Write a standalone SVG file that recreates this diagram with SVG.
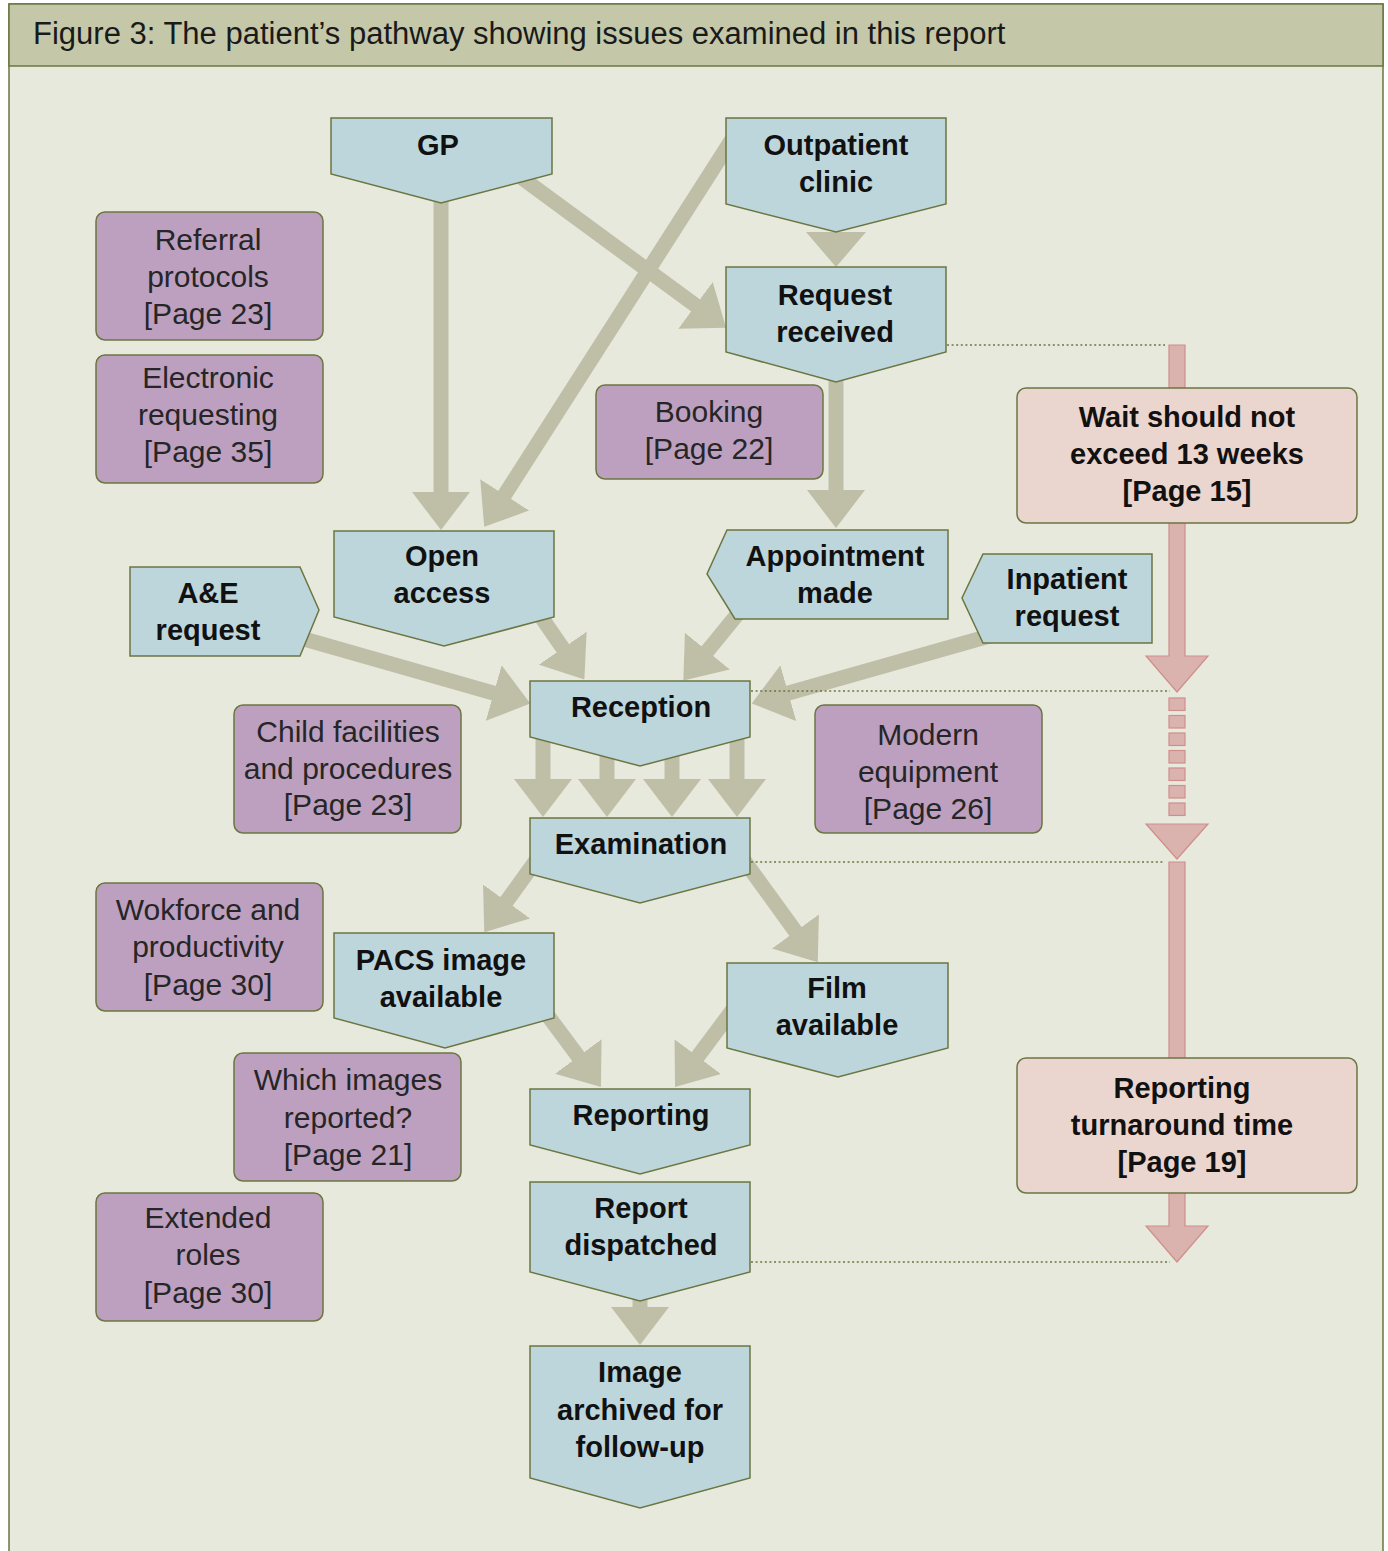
<svg xmlns="http://www.w3.org/2000/svg" width="1388" height="1551" viewBox="0 0 1388 1551">
<defs>
<style>
.node{fill:#bdd6dc;stroke:#6b7640;stroke-width:1.5}
.note{fill:#bda0c0;stroke:#6b7640;stroke-width:1.5}
.pinkbox{fill:#ebd5cf;stroke:#6b7640;stroke-width:1.5}
.conn{stroke:#bfbfa8;stroke-width:15;fill:none;marker-end:url(#ah)}
.head{fill:#bfbfa8}
.pink{fill:#dbb3ae;stroke:#d08e8b;stroke-width:1.2}
.dot{stroke:#6b7640;stroke-width:1.3;stroke-dasharray:2 2.6;fill:none}
.bt{font-family:"Liberation Sans",Arial,sans-serif;font-weight:bold;font-size:29px;fill:#111;text-anchor:middle}
.nt{font-family:"Liberation Sans",Arial,sans-serif;font-size:30px;fill:#262626;text-anchor:middle}
</style>
<marker id="ah" markerUnits="userSpaceOnUse" viewBox="0 0 38 58" markerWidth="38" markerHeight="58" refX="18" refY="29" orient="auto">
<path d="M0,0 L38,29 L0,58 Z" fill="#bfbfa8"/>
</marker>
</defs>
<rect x="0" y="0" width="1388" height="1551" fill="#ffffff"/>
<rect x="9" y="4" width="1374" height="1560" fill="#e8e9dd" stroke="#6b7640" stroke-width="1.5"/>
<rect x="9" y="4" width="1374" height="62" fill="#c4c8a9" stroke="#6b7640" stroke-width="1.5"/>
<text x="33" y="44" font-family="Liberation Sans, Arial, sans-serif" font-size="31" fill="#1a1a1a">Figure 3: The patient’s pathway showing issues examined in this report</text>

<g id="connectors">
<line class="conn" x1="441" y1="195" x2="441" y2="510"/>
<line class="conn" x1="522" y1="178" x2="710" y2="316"/>
<line class="conn" x1="736" y1="133" x2="495" y2="510"/>
<polygon class="head" points="806,232 866,232 836,267"/>
<line class="conn" x1="836" y1="375" x2="836" y2="508"/>
<line class="conn" x1="535" y1="608" x2="573" y2="663"/>
<line class="conn" x1="745" y1="605" x2="696" y2="665"/>
<line class="conn" x1="290" y1="635" x2="511" y2="698"/>
<line class="conn" x1="1000" y1="633" x2="771" y2="698"/>
<line class="conn" x1="543" y1="735" x2="543" y2="797"/>
<line class="conn" x1="607" y1="735" x2="607" y2="797"/>
<line class="conn" x1="672" y1="735" x2="672" y2="797"/>
<line class="conn" x1="737" y1="735" x2="737" y2="797"/>
<line class="conn" x1="540" y1="855" x2="496" y2="916"/>
<line class="conn" x1="740" y1="855" x2="806" y2="946"/>
<line class="conn" x1="540" y1="1005" x2="589" y2="1071"/>
<line class="conn" x1="740" y1="1000" x2="687" y2="1071"/>
<line class="conn" x1="640" y1="1290" x2="640" y2="1325"/>
<line class="dot" x1="947" y1="345" x2="1165" y2="345"/>
<line class="dot" x1="751" y1="691" x2="1170" y2="691"/>
<line class="dot" x1="751" y1="862" x2="1165" y2="862"/>
<line class="dot" x1="751" y1="1262" x2="1170" y2="1262"/>
</g>

<g id="timeline">
<polygon class="pink" points="1169,345 1185,345 1185,656 1208,656 1177,692 1146,656 1169,656"/>
<rect class="pink" x="1169" y="698" width="16" height="12.5"/>
<rect class="pink" x="1169" y="715.5" width="16" height="12.5"/>
<rect class="pink" x="1169" y="733" width="16" height="12.5"/>
<rect class="pink" x="1169" y="750.5" width="16" height="12.5"/>
<rect class="pink" x="1169" y="768" width="16" height="12.5"/>
<rect class="pink" x="1169" y="785.5" width="16" height="12.5"/>
<rect class="pink" x="1169" y="803" width="16" height="12.5"/>
<polygon class="pink" points="1146,824 1208,824 1177,859"/>
<polygon class="pink" points="1169,862 1185,862 1185,1226 1208,1226 1177,1262 1146,1226 1169,1226"/>
</g>

<g id="gp"><polygon class="node" points="331,118 552,118 552,174 441,203 331,174"/><text class="bt" x="438" y="155">GP</text></g>
<g id="outpatient"><polygon class="node" points="726,118 946,118 946,204 836,232 726,204"/><text class="bt" x="836" y="155">Outpatient</text><text class="bt" x="836" y="192">clinic</text></g>
<g id="request"><polygon class="node" points="726,267 946,267 946,352 836,382 726,352"/><text class="bt" x="835" y="305">Request</text><text class="bt" x="835" y="342">received</text></g>
<g id="open-access"><polygon class="node" points="334,531 554,531 554,617 444,646 334,617"/><text class="bt" x="442" y="566">Open</text><text class="bt" x="442" y="603">access</text></g>
<g id="ae"><polygon class="node" points="130,567 300,567 319,610 300,656 130,656"/><text class="bt" x="208" y="603">A&amp;E</text><text class="bt" x="208" y="640">request</text></g>
<g id="appointment"><polygon class="node" points="727,530 948,530 948,619 735,619 707,574"/><text class="bt" x="835" y="566">Appointment</text><text class="bt" x="835" y="603">made</text></g>
<g id="inpatient"><polygon class="node" points="983,554 1152,554 1152,643 983,643 962,598"/><text class="bt" x="1067" y="589">Inpatient</text><text class="bt" x="1067" y="626">request</text></g>
<g id="reception"><polygon class="node" points="530,681 750,681 750,737 640,766 530,737"/><text class="bt" x="641" y="717">Reception</text></g>
<g id="examination"><polygon class="node" points="530,818 750,818 750,874 640,903 530,874"/><text class="bt" x="641" y="854">Examination</text></g>
<g id="pacs"><polygon class="node" points="334,933 554,933 554,1018 445,1048 334,1018"/><text class="bt" x="441" y="970">PACS image</text><text class="bt" x="441" y="1007">available</text></g>
<g id="film"><polygon class="node" points="727,963 948,963 948,1048 838,1077 727,1048"/><text class="bt" x="837" y="998">Film</text><text class="bt" x="837" y="1035">available</text></g>
<g id="reporting"><polygon class="node" points="530,1089 750,1089 750,1145 640,1174 530,1145"/><text class="bt" x="641" y="1125">Reporting</text></g>
<g id="dispatched"><polygon class="node" points="530,1182 750,1182 750,1272 640,1301 530,1272"/><text class="bt" x="641" y="1218">Report</text><text class="bt" x="641" y="1255">dispatched</text></g>
<g id="archived"><polygon class="node" points="530,1346 750,1346 750,1478 640,1508 530,1478"/><text class="bt" x="640" y="1382">Image</text><text class="bt" x="640" y="1420">archived for</text><text class="bt" x="640" y="1457">follow-up</text></g>

<g id="referral"><rect class="note" x="96" y="212" width="227" height="128" rx="9"/><text class="nt" x="208" y="250">Referral</text><text class="nt" x="208" y="287">protocols</text><text class="nt" x="208" y="324">[Page 23]</text></g>
<g id="electronic"><rect class="note" x="96" y="355" width="227" height="128" rx="9"/><text class="nt" x="208" y="388">Electronic</text><text class="nt" x="208" y="425">requesting</text><text class="nt" x="208" y="462">[Page 35]</text></g>
<g id="booking"><rect class="note" x="596" y="385" width="227" height="94" rx="9"/><text class="nt" x="709" y="422">Booking</text><text class="nt" x="709" y="459">[Page 22]</text></g>
<g id="child"><rect class="note" x="234" y="705" width="227" height="128" rx="9"/><text class="nt" x="348" y="742">Child facilities</text><text class="nt" x="348" y="779">and procedures</text><text class="nt" x="348" y="815">[Page 23]</text></g>
<g id="modern"><rect class="note" x="815" y="705" width="227" height="128" rx="9"/><text class="nt" x="928" y="745">Modern</text><text class="nt" x="928" y="782">equipment</text><text class="nt" x="928" y="819">[Page 26]</text></g>
<g id="workforce"><rect class="note" x="96" y="883" width="227" height="128" rx="9"/><text class="nt" x="208" y="920">Wokforce and</text><text class="nt" x="208" y="957">productivity</text><text class="nt" x="208" y="995">[Page 30]</text></g>
<g id="which"><rect class="note" x="234" y="1053" width="227" height="128" rx="9"/><text class="nt" x="348" y="1090">Which images</text><text class="nt" x="348" y="1128">reported?</text><text class="nt" x="348" y="1165">[Page 21]</text></g>
<g id="extended"><rect class="note" x="96" y="1193" width="227" height="128" rx="9"/><text class="nt" x="208" y="1228">Extended</text><text class="nt" x="208" y="1265">roles</text><text class="nt" x="208" y="1303">[Page 30]</text></g>

<g id="wait"><rect class="pinkbox" x="1017" y="388" width="340" height="135" rx="9"/><text class="bt" x="1187" y="427">Wait should not</text><text class="bt" x="1187" y="464">exceed 13 weeks</text><text class="bt" x="1187" y="501">[Page 15]</text></g>
<g id="turnaround"><rect class="pinkbox" x="1017" y="1058" width="340" height="135" rx="9"/><text class="bt" x="1182" y="1098">Reporting</text><text class="bt" x="1182" y="1135">turnaround time</text><text class="bt" x="1182" y="1172">[Page 19]</text></g>
</svg>
